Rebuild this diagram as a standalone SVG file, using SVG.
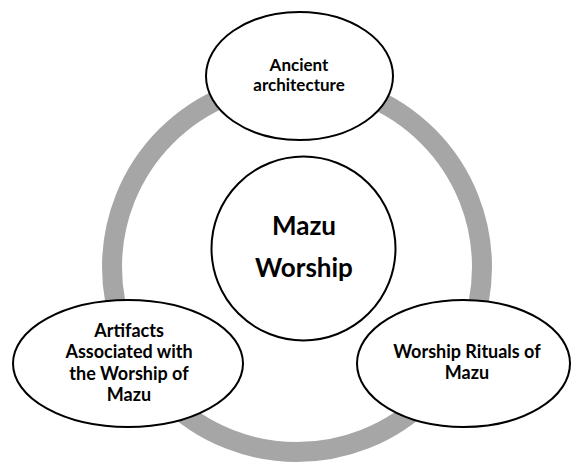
<svg xmlns="http://www.w3.org/2000/svg" width="572" height="463" viewBox="0 0 572 463">
<style>
.n{fill:#fff;stroke:#000;stroke-width:2}
.t{font-family:Lato,"Open Sans","Liberation Sans",sans-serif;font-weight:bold;font-size:18px;text-anchor:middle;fill:#000}
.s{font-size:17px}
.big{font-size:26px}
</style>
<rect width="572" height="463" fill="#fff"/>
<g id="connectors">
<circle cx="297" cy="267" r="185" fill="none" stroke="#a6a6a6" stroke-width="20"/>
</g>
<g id="center">
<circle class="n" cx="303.5" cy="248.5" r="92"/>
<text class="t big" x="304" y="235">Mazu</text>
<text class="t big" x="304" y="277">Worship</text>
</g>
<g id="top">
<ellipse class="n" cx="299.5" cy="76" rx="93.5" ry="64"/>
<text class="t s" x="299" y="71">Ancient</text>
<text class="t s" x="299" y="91">architecture</text>
</g>
<g id="left">
<ellipse class="n" cx="128" cy="363.5" rx="115" ry="63.5"/>
<text class="t" x="129" y="337">Artifacts</text>
<text class="t" x="129" y="358">Associated with</text>
<text class="t" x="129" y="380">the Worship of</text>
<text class="t" x="129" y="401">Mazu</text>
</g>
<g id="right">
<ellipse class="n" cx="463.5" cy="363.5" rx="106.5" ry="63.5"/>
<text class="t" x="467" y="358">Worship Rituals of</text>
<text class="t" x="467" y="379">Mazu</text>
</g>
</svg>
